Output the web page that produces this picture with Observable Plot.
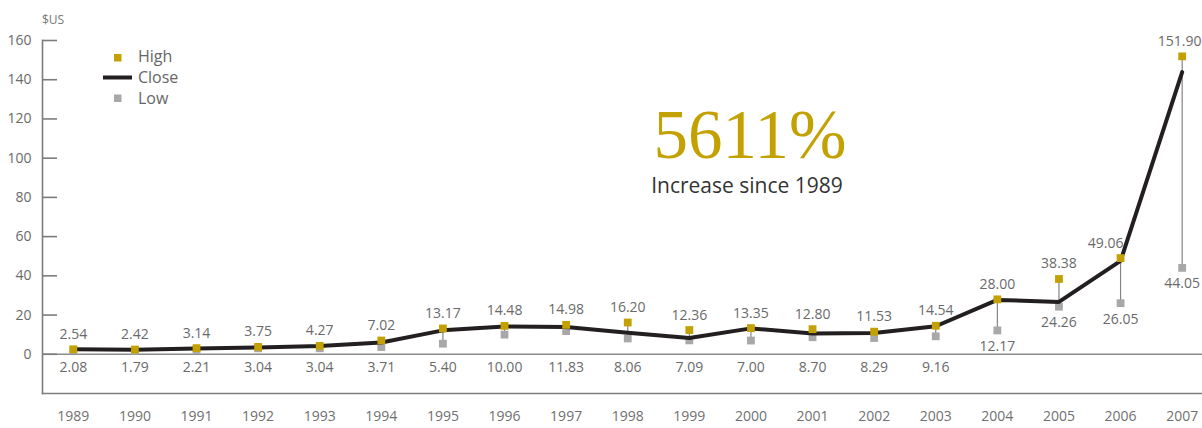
<!DOCTYPE html>
<html>
<head>
<meta charset="utf-8">
<script src="https://cdn.jsdelivr.net/npm/d3@7"></script>
<script src="https://cdn.jsdelivr.net/npm/@observablehq/plot@0.6"></script>
<style>
  body { margin: 0; background: #fff; }
  #wrap { position: relative; width: 1202px; height: 428px; overflow: hidden; }
  #wrap svg.overlay { position: absolute; left: 0; top: 0; pointer-events: none; }
</style>
</head>
<body>
<div id="wrap"></div>
<script>
// ---- data ----
const years = [1989,1990,1991,1992,1993,1994,1995,1996,1997,1998,1999,2000,2001,2002,2003,2004,2005,2006,2007];
const high  = [2.54,2.42,3.14,3.75,4.27,7.02,13.17,14.48,14.98,16.20,12.36,13.35,12.80,11.53,14.54,28.00,38.38,49.06,151.90];
const close = [2.52,2.35,2.90,3.50,4.20,6.00,12.20,14.20,13.90,11.00,8.30,13.20,10.60,10.90,14.30,27.70,26.70,47.60,143.90];
const low   = [2.08,1.79,2.21,3.04,3.04,3.71,5.40,10.00,11.83,8.06,7.09,7.00,8.70,8.29,9.16,12.17,24.26,26.05,44.05];
const yTicks = [0,20,40,60,80,100,120,140,160];
const unitLabel = "$US";
const bigFigure = "5611%";
const bigCaption = "Increase since 1989";
const legendLabels = ["High","Close","Low"];

// ---- layout / style ----
const W = 1202, H = 428, mL = 42, mR = 0, mT = 40, mB = 35;
const gold = "#c4a102", grey = "#a8a8ab", ink = "#231f20", axisGrey = "#7c7c7c", labelGrey = "#6a6a6a";
const lowRow = -7; // row for low labels that sit under the zero line
const font = "'Open Sans', 'DejaVu Sans', sans-serif";

const data = years.map((year, i) => ({year, high: high[i], close: close[i], low: low[i]}));
const rowLabels = data.filter(d => d.low <= 12);
const markerLabels = data.filter(d => d.low > 12);
const lastYear = years[years.length - 1];

const chart = Plot.plot({
  width: W, height: H,
  marginLeft: mL, marginRight: mR, marginTop: mT, marginBottom: mB,
  style: {fontFamily: font, background: "white", overflow: "visible"},
  x: {type: "linear", domain: [1988.5, 2007.33], axis: null},
  y: {domain: [-20, 160], axis: null},
  marks: [
    Plot.frame({anchor: "left", stroke: axisGrey, strokeWidth: 1.6}),
    Plot.frame({anchor: "bottom", stroke: axisGrey, strokeWidth: 1.6}),
    Plot.ruleY([0], {stroke: "#8c8c8c", strokeWidth: 1.6}),
    Plot.tickY(yTicks, {y: d => d, stroke: axisGrey, strokeWidth: 1.6, insetRight: W - mL - mR - 15}),
    Plot.axisY({ticks: yTicks, tickSize: 0, tickPadding: 11, fontSize: 14, fill: labelGrey, label: null}),
    Plot.axisX({ticks: years, tickFormat: d => String(d), tickSize: 0, tickPadding: 18, fontSize: 14, fill: "#707070", label: null}),
    Plot.ruleX(data, {x: "year", y1: "low", y2: "high", stroke: "#848484", strokeWidth: 1.2}),
    Plot.dot(data, {x: "year", y: "low", symbol: "square", r: 4.4, fill: grey, stroke: null}),
    Plot.line(data, {x: "year", y: "close", stroke: ink, strokeWidth: 4, strokeLinejoin: "round"}),
    Plot.dot(data, {x: "year", y: "high", symbol: "square", r: 4.4, fill: gold, stroke: null}),
    Plot.text(data.filter(d => d.year !== 2006 && d.year !== lastYear), {x: "year", y: "high", text: d => d.high.toFixed(2), dy: -15, fontSize: 14, fill: labelGrey}),
    Plot.text(data.filter(d => d.year === 2006), {x: "year", y: "high", text: d => d.high.toFixed(2), dy: -15, dx: 3, textAnchor: "end", fontSize: 14, fill: labelGrey}),
    Plot.text(data.filter(d => d.year === lastYear), {x: "year", y: "high", text: d => d.high.toFixed(2), dy: -15, dx: -2.5, fontSize: 14, fill: labelGrey}),
    Plot.text(rowLabels, {x: "year", y: () => lowRow, text: d => d.low.toFixed(2), fontSize: 14, fill: labelGrey}),
    Plot.text(markerLabels, {x: "year", y: "low", text: d => d.low.toFixed(2), dy: 16, fontSize: 14, fill: labelGrey})
  ]
});

const wrap = document.getElementById("wrap");
wrap.appendChild(chart);

// ---- annotations: unit label, legend, headline figure ----
const ov = d3.select(wrap).append("svg").attr("class", "overlay")
  .attr("width", W).attr("height", H).style("font-family", font);

ov.append("text").attr("x", mL).attr("y", 24).attr("font-size", 12).attr("fill", "#777").text(unitLabel);

const lg = ov.append("g");
lg.append("rect").attr("x", 114).attr("y", 54).attr("width", 7.5).attr("height", 7.5).attr("fill", gold);
lg.append("line").attr("x1", 103).attr("x2", 132).attr("y1", 77.5).attr("y2", 77.5).attr("stroke", ink).attr("stroke-width", 4);
lg.append("rect").attr("x", 114).attr("y", 94.5).attr("width", 7.5).attr("height", 7.5).attr("fill", grey);
[62, 83, 104].forEach((yb, i) => {
  lg.append("text").attr("x", 138).attr("y", yb).attr("font-size", 16).attr("fill", "#666").text(legendLabels[i]);
});

ov.append("text").attr("x", 750).attr("y", 158).attr("text-anchor", "middle")
  .attr("font-family", "'Liberation Serif', 'DejaVu Serif', serif").attr("font-size", 69).attr("fill", gold).text(bigFigure);
ov.append("text").attr("x", 747).attr("y", 193).attr("text-anchor", "middle")
  .attr("font-size", 21).attr("fill", "#333").text(bigCaption);
</script>
</body>
</html>
